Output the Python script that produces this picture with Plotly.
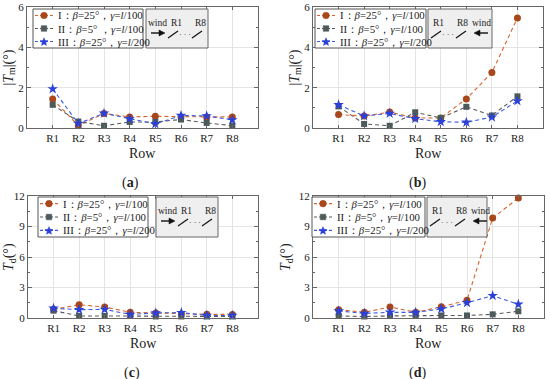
import math
import plotly.graph_objects as go

rows = ["R1", "R2", "R3", "R4", "R5", "R6", "R7", "R8"]
xpos = [1, 2, 3, 4, 5, 6, 7, 8]

names_a = ["I：<i>β</i>=25°，<i>γ</i>=<i>l</i>/100",
           "II：<i>β</i>=5° ，<i>γ</i>=<i>l</i>/100",
           "III：<i>β</i>=25°，<i>γ</i>=<i>l</i>/200"]
names_b = ["I：<i>β</i>=25°，<i>γ</i>=<i>l</i>/100",
           "II：<i>β</i>=5°，<i>γ</i>=<i>l</i>/100",
           "III：<i>β</i>=25°，<i>γ</i>=<i>l</i>/200"]

# (a) |Tm| windward
a_I = [1.44, 0.12, 0.72, 0.55, 0.58, 0.55, 0.55, 0.55]
a_II = [1.15, 0.32, 0.11, 0.30, 0.30, 0.42, 0.25, 0.12]
a_III = [1.94, 0.22, 0.73, 0.45, 0.20, 0.62, 0.60, 0.40]
# (b) |Tm| leeward
b_I = [0.67, 0.59, 0.79, 0.49, 0.50, 1.44, 2.75, 5.46]
b_II = [1.07, 0.20, 0.11, 0.78, 0.50, 1.05, 0.62, 1.57]
b_III = [1.15, 0.60, 0.72, 0.46, 0.31, 0.28, 0.54, 1.34]
# (c) Td windward
c_I = [0.85, 1.30, 1.08, 0.56, 0.50, 0.40, 0.36, 0.35]
c_II = [0.72, 0.20, 0.20, 0.20, 0.15, 0.15, 0.15, 0.15]
c_III = [0.95, 0.82, 0.85, 0.35, 0.50, 0.53, 0.25, 0.25]
# (d) Td leeward
d_I = [0.82, 0.56, 1.08, 0.56, 1.10, 1.74, 9.83, 11.80]
d_II = [0.20, 0.15, 0.20, 0.25, 0.25, 0.25, 0.36, 0.66]
d_III = [0.69, 0.45, 0.56, 0.55, 0.89, 1.50, 2.20, 1.35]

panels = [
    ("a", [a_I, a_II, a_III], names_a, [0, 6], 2, 1),
    ("b", [b_I, b_II, b_III], names_b, [0, 6], 2, 1),
    ("c", [c_I, c_II, c_III], names_b, [0, 12], 3, 1.5),
    ("d", [d_I, d_II, d_III], names_b, [0, 12], 3, 1.5),
]

W, H = 550, 379
def px(x):
    return x / W
def py(y):
    return 1 - y / H

# plot-area pixel boxes (x0, x1, ytop, ybottom)
boxes = [(27, 258, 7, 128), (313, 543, 7, 128), (28, 258, 196, 318), (313, 544, 196, 318)]

line_cols = ["#d8642c", "#5a5a5a", "#3a5ae0"]
mark_cols = ["#a8471b", "#4d5a5a", "#2b40d6"]
symbols = ["circle", "square", "star"]
msize = [7, 6, 8]
DASH = "4px,3px"

fig = go.Figure()
FONT = "Liberation Serif"
layout = dict(width=W, height=H, margin=dict(l=0, r=0, t=0, b=0, autoexpand=False),
              paper_bgcolor="white", plot_bgcolor="white", showlegend=False,
              font=dict(family=FONT, size=11, color="#222"))
annotations = []
shapes = []


def ann(text, x, y, size=11, xanchor="center", **kw):
    d = dict(text=text, x=px(x), y=py(y), xref="paper", yref="paper", showarrow=False,
             xanchor=xanchor, yanchor="middle",
             font=dict(family=FONT, size=size, color="#222"))
    d.update(kw)
    annotations.append(d)


# legend boxes (x0, x1, ytop, ybottom)
leg_boxes = [(33, 143, 9, 48), (315, 426, 9, 48), (38, 148, 197, 237), (312, 425, 197, 237)]
ytitles = ["|<i>T</i><sub>m</sub>|(°)", "|<i>T</i><sub>m</sub>|(°)", "<i>T</i><sub>d</sub>(°)", "<i>T</i><sub>d</sub>(°)"]
ytitle_x = [9, 295, 9, 286]
label_x = [130, 417, 132, 417]


def star_path(cx, cy, r):
    pts = []
    for n in range(10):
        ang = -math.pi / 2 + n * math.pi / 5
        rr = r if n % 2 == 0 else r * 0.45
        pts.append((px(cx + rr * math.cos(ang)), py(cy + rr * math.sin(ang))))
    return "M " + " L ".join("%.5f,%.5f" % p for p in pts) + " Z"


for i, (lab, series, names, yr, dt, mt) in enumerate(panels):
    k = "" if i == 0 else str(i + 1)
    x0, x1, yt, yb = boxes[i]
    for j, s in enumerate(series):
        fig.add_trace(go.Scatter(
            x=xpos, y=s, mode="lines+markers", name=names[j],
            line=dict(color=line_cols[j], width=1.1, dash=DASH),
            marker=dict(color=mark_cols[j], symbol=symbols[j], size=msize[j]),
            xaxis="x" + k, yaxis="y" + k, cliponaxis=False))
    layout["xaxis" + k] = dict(
        domain=[px(x0), px(x1)], anchor="y" + k, range=[0, 9], automargin=False,
        tickvals=xpos, ticktext=rows, showgrid=True, gridcolor="#e4e4e4",
        showline=True, mirror="ticks", linecolor="#666", linewidth=1,
        ticks="inside", ticklen=3, tickcolor="#666", zeroline=False,
        tickfont=dict(family=FONT, size=11, color="#222"))
    layout["yaxis" + k] = dict(
        domain=[py(yb), py(yt)], anchor="x" + k, range=yr, dtick=dt, automargin=False,
        showgrid=True, gridcolor="#e4e4e4", zeroline=False,
        showline=True, mirror="ticks", linecolor="#666", linewidth=1,
        ticks="inside", ticklen=4, tickcolor="#666",
        minor=dict(dtick=mt, ticks="inside", ticklen=2, tickcolor="#666", showgrid=False),
        tickfont=dict(family=FONT, size=11, color="#222"))
    # axis titles
    ann("Row", (x0 + x1) / 2, yb + 25, size=14)
    ann(ytitles[i], ytitle_x[i], (yt + yb) / 2, size=14, textangle=-90)
    # panel label
    ann("(<b>%s</b>)" % lab, label_x[i], yb + 55, size=14)
    # legend (drawn)
    lx0, lx1, lyt, lyb = leg_boxes[i]
    shapes.append(dict(type="rect", xref="paper", yref="paper",
                       x0=px(lx0), x1=px(lx1), y0=py(lyb), y1=py(lyt),
                       fillcolor="white", line=dict(color="#555", width=1)))
    rowh = (lyb - lyt) / 3.0
    for j in range(3):
        cy = lyt + rowh * (j + 0.5)
        shapes.append(dict(type="line", xref="paper", yref="paper",
                           x0=px(lx0 + 2), x1=px(lx0 + 21), y0=py(cy), y1=py(cy),
                           line=dict(color=line_cols[j], width=1.1, dash="3px,2px")))
        mx = lx0 + 11
        if j == 0:
            shapes.append(dict(type="circle", xref="paper", yref="paper",
                               x0=px(mx - 3.3), x1=px(mx + 3.3), y0=py(cy + 3.3), y1=py(cy - 3.3),
                               fillcolor=mark_cols[j], line=dict(color=mark_cols[j], width=0.5)))
        elif j == 1:
            shapes.append(dict(type="rect", xref="paper", yref="paper",
                               x0=px(mx - 2.8), x1=px(mx + 2.8), y0=py(cy + 2.8), y1=py(cy - 2.8),
                               fillcolor=mark_cols[j], line=dict(color=mark_cols[j], width=0.5)))
        else:
            shapes.append(dict(type="path", xref="paper", yref="paper",
                               path=star_path(mx, cy + 0.5, 4.2),
                               fillcolor=mark_cols[j], line=dict(color=mark_cols[j], width=0.5)))
        ann(names[j], lx0 + 23, cy, size=10.8, xanchor="left")

# wind insets: (box x0, box x1, ytop, ybottom, direction)
insets = [(146, 208, 9, 48, "right"), (428, 492, 9, 48, "left"),
          (156, 218, 197, 237, "right"), (427, 487, 197, 237, "left")]
for (bx0, bx1, byt, byb, d) in insets:
    shapes.append(dict(type="rect", xref="paper", yref="paper",
                       x0=px(bx0), x1=px(bx1), y0=py(byb), y1=py(byt),
                       fillcolor="#efefef", line=dict(color="#666", width=1)))
    ty = byt + 14
    ly0 = byt + 29
    ly1 = byt + 22
    ay = byt + 24
    if d == "right":
        items = [("wind", bx0 + 11), ("R1", bx0 + 30), ("R8", bx0 + 54)]
        ax0, ax1 = bx0 + 5, bx0 + 19
        s1 = bx0 + 22
        dots = bx0 + 39
        s2 = bx0 + 46
    else:
        items = [("R1", bx0 + 10), ("R8", bx0 + 34), ("wind", bx0 + 53)]
        ax0, ax1 = bx0 + 60, bx0 + 46
        s1 = bx0 + 3
        dots = bx0 + 20
        s2 = bx0 + 28
    for t, tx in items:
        ann(t, tx, ty, size=9.5)
    # arrow: shaft + head
    sgn = 1 if ax1 > ax0 else -1
    shapes.append(dict(type="line", xref="paper", yref="paper",
                       x0=px(ax0), x1=px(ax1 - sgn * 4), y0=py(ay), y1=py(ay),
                       line=dict(color="#111", width=1.4)))
    head = "M %.5f,%.5f L %.5f,%.5f L %.5f,%.5f Z" % (
        px(ax1), py(ay), px(ax1 - sgn * 6), py(ay - 3), px(ax1 - sgn * 6), py(ay + 3))
    shapes.append(dict(type="path", xref="paper", yref="paper", path=head,
                       fillcolor="#111", line=dict(color="#111", width=0.5)))
    for sx in (s1, s2):
        shapes.append(dict(type="line", xref="paper", yref="paper",
                           x0=px(sx), x1=px(sx + 10), y0=py(ly0), y1=py(ly1),
                           line=dict(color="#111", width=1.2)))
    ann("· · ·", dots, ay + 1, size=8)

layout["annotations"] = annotations
layout["shapes"] = shapes
fig.update_layout(**layout)
fig.write_html("out.html", config={"displayModeBar": False},
               post_script="document.body.style.margin='0';")
